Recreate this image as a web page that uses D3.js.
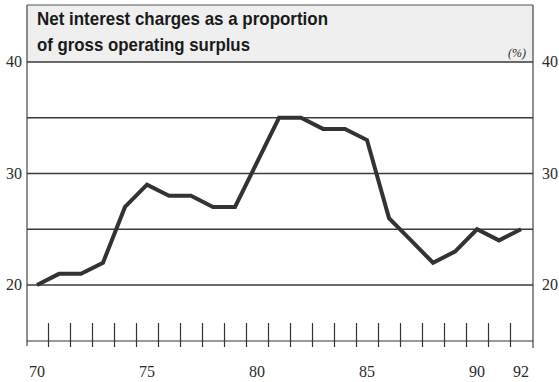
<!DOCTYPE html>
<html>
<head>
<meta charset="utf-8">
<script src="https://cdn.jsdelivr.net/npm/d3@7"></script>
<style>
  html, body { margin: 0; padding: 0; background: #fff; }
  svg { display: block; }
</style>
</head>
<body>
<svg id="chart" width="559" height="382"></svg>
<script>
// Net interest charges as a share of gross operating surplus, 1970-92 (%)
const years = [1970, 1971, 1972, 1973, 1974, 1975, 1976, 1977, 1978, 1979, 1980,
               1981, 1982, 1983, 1984, 1985, 1986, 1987, 1988, 1989, 1990, 1991, 1992];
const values = [20, 21, 21, 22, 27, 29, 28, 28, 27, 27, 31,
                35, 35, 34, 34, 33, 26, 24, 22, 23, 25, 24, 25];
const yTicks = [20, 30, 40];
const gridLevels = [20, 25, 30, 35, 40];
const xLabels = [1970, 1975, 1980, 1985, 1990, 1992];
const titleLines = ["Net interest charges as a proportion", "of gross operating surplus"];

const svg = d3.select("#chart");
const frame = { left: 27, right: 533, top: 5, axisY: 341 };

const x = d3.scaleLinear().domain([1970, 1992]).range([37, 521]);
const y = d3.scaleLinear().domain([20, 40]).range([285, 62]);

const ink = "#2a2a2a";
const serif = "'Liberation Serif', 'DejaVu Serif', serif";

// title band
svg.append("rect")
  .attr("x", frame.left).attr("y", frame.top)
  .attr("width", frame.right - frame.left).attr("height", y(40) - frame.top)
  .attr("fill", "#efefef");

svg.append("line")
  .attr("x1", frame.left).attr("x2", frame.right)
  .attr("y1", frame.top).attr("y2", frame.top)
  .attr("stroke", "#555").attr("stroke-width", 1.2);

// horizontal grid
svg.append("g").selectAll("line").data(gridLevels).join("line")
  .attr("x1", frame.left).attr("x2", frame.right)
  .attr("y1", d => y(d)).attr("y2", d => y(d))
  .attr("stroke", "#3a3a3a").attr("stroke-width", 1.3);

// side axes
svg.append("line")
  .attr("x1", frame.left).attr("x2", frame.left)
  .attr("y1", frame.top).attr("y2", 346)
  .attr("stroke", "#444").attr("stroke-width", 1.2);
svg.append("line")
  .attr("x1", frame.right).attr("x2", frame.right)
  .attr("y1", frame.top).attr("y2", 348)
  .attr("stroke", "#444").attr("stroke-width", 1.2);

// y labels on both sides
svg.append("g").selectAll("text").data(yTicks).join("text")
  .attr("x", 22).attr("y", d => y(d)).attr("dy", "0.34em")
  .attr("text-anchor", "end")
  .attr("font-family", serif).attr("font-size", 16).attr("fill", ink)
  .text(d => d);
svg.append("g").selectAll("text").data(yTicks).join("text")
  .attr("x", 542).attr("y", d => y(d)).attr("dy", "0.34em")
  .attr("text-anchor", "start")
  .attr("font-family", serif).attr("font-size", 16).attr("fill", ink)
  .text(d => d);

// bottom axis with year-boundary ticks
const tickYears = d3.range(1970.5, 1992, 1);
const xAxis = d3.axisBottom(x)
  .tickValues(tickYears)
  .tickSize(0)
  .tickFormat("");
const gx = svg.append("g").attr("transform", `translate(0,${frame.axisY})`).call(xAxis);
gx.select(".domain").remove();
gx.selectAll(".tick").append("line")
  .attr("y1", -18).attr("y2", 6)
  .attr("stroke", "#333").attr("stroke-width", 1.2);
svg.append("line")
  .attr("x1", frame.left).attr("x2", frame.right)
  .attr("y1", frame.axisY).attr("y2", frame.axisY)
  .attr("stroke", "#333").attr("stroke-width", 1.2);

svg.append("g").selectAll("text").data(xLabels).join("text")
  .attr("x", d => x(d)).attr("y", 377)
  .attr("text-anchor", "middle")
  .attr("font-family", serif).attr("font-size", 16).attr("fill", ink)
  .text(d => String(d).slice(2));

// data line
svg.append("path")
  .datum(years.map((yr, i) => [yr, values[i]]))
  .attr("fill", "none")
  .attr("stroke", "#333")
  .attr("stroke-width", 4)
  .attr("stroke-linejoin", "miter")
  .attr("d", d3.line().x(d => x(d[0])).y(d => y(d[1])));

// title
const titleWidths = [291, 213];
svg.append("g").selectAll("text").data(titleLines).join("text")
  .attr("x", 37).attr("y", (d, i) => 25 + i * 26)
  .attr("font-family", "'Liberation Sans', Arial, sans-serif")
  .attr("font-weight", "bold").attr("font-size", 19).attr("fill", "#1a1a1a")
  .attr("textLength", (d, i) => titleWidths[i])
  .attr("lengthAdjust", "spacingAndGlyphs")
  .text(d => d);

// unit note
svg.append("text")
  .attr("x", 526).attr("y", 57)
  .attr("text-anchor", "end")
  .attr("font-family", serif).attr("font-style", "italic")
  .attr("font-size", 12).attr("fill", ink)
  .text("(%)");
</script>
</body>
</html>
